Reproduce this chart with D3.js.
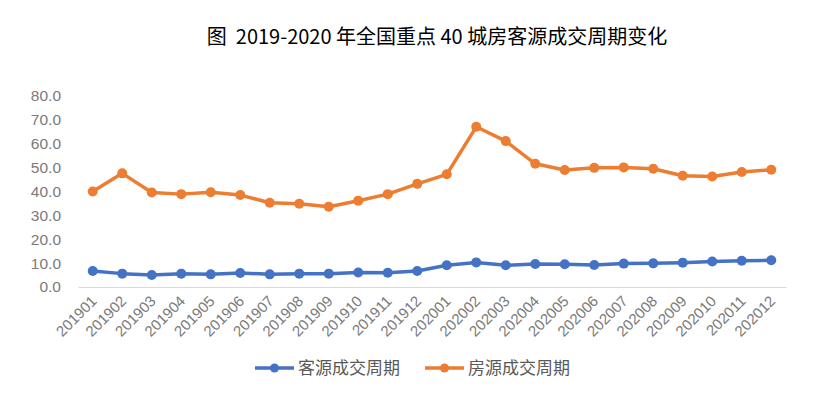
<!DOCTYPE html>
<html>
<head>
<meta charset="utf-8">
<script src="https://cdn.jsdelivr.net/npm/d3@7"></script>
<style>
  body { margin: 0; background: #fff; }
  svg { display: block; }
</style>
</head>
<body>
<div id="chart"></div>
<script>
// data
const months = ["201901","201902","201903","201904","201905","201906","201907","201908","201909","201910","201911","201912",
                "202001","202002","202003","202004","202005","202006","202007","202008","202009","202010","202011","202012"];
const buyerCycle = [6.7,5.6,5.0,5.6,5.3,5.9,5.3,5.6,5.6,6.1,6.0,6.7,
                    9.1,10.3,9.1,9.6,9.5,9.2,9.8,9.9,10.2,10.7,11.0,11.2];
const listingCycle = [40.0,47.6,39.6,38.9,39.7,38.5,35.3,34.9,33.6,36.1,38.9,43.2,
                      47.2,67.1,61.1,51.6,49.0,49.9,50.1,49.5,46.6,46.3,48.2,49.1];
const seriesNames = ["客源成交周期", "房源成交周期"];
const yTicks = [0,10,20,30,40,50,60,70,80];

const width = 830, height = 395;
const margin = {top: 96, right: 44, bottom: 108, left: 78};
const colors = ["#4472C4", "#ED7D31"];

const svg = d3.select("#chart").append("svg")
    .attr("width", width)
    .attr("height", height);

// title
svg.append("text")
    .attr("x", 437)
    .attr("y", 44)
    .attr("text-anchor", "middle")
    .attr("font-family", "'Noto Sans CJK SC', sans-serif")
    .attr("font-size", 20)
    .attr("fill", "#000")
    .style("white-space", "pre")
    .text("图  2019-2020 年全国重点 40 城房客源成交周期变化");

//scales
let x = d3.scaleBand()
    .domain(months)
    .range([margin.left, width - margin.right]);

let y = d3.scaleLinear()
    .domain([0, 80])
    .range([height - margin.bottom, margin.top]);

// y axis (labels only)
let yAxis = d3.axisLeft(y)
    .tickValues(yTicks)
    .tickFormat(d3.format(".1f"))
    .tickSize(0)
    .tickPadding(0);

let yG = svg.append("g")
    .attr("transform", "translate(61,0)")
    .call(yAxis);
yG.select(".domain").remove();
yG.selectAll("text")
    .attr("font-family", "'Liberation Sans', Arial, sans-serif")
    .attr("font-size", 15.5)
    .attr("fill", "#7a7a7a");

// x axis
let xAxis = d3.axisBottom(x).tickSize(0).tickPadding(0);
let xG = svg.append("g")
    .attr("transform", `translate(0,${y(0)})`)
    .call(xAxis);
xG.select(".domain").attr("stroke", "#d9d9d9").attr("stroke-width", 1.2);
xG.selectAll("text")
    .attr("font-family", "'Liberation Sans', Arial, sans-serif")
    .attr("font-size", 15)
    .attr("fill", "#7a7a7a")
    .attr("text-anchor", "end")
    .attr("dy", 0)
    .attr("transform", "translate(5,15) rotate(-45)");

// lines
const lineGen = d3.line()
    .x((d, i) => x(months[i]) + x.bandwidth() / 2)
    .y(d => y(d));

[buyerCycle, listingCycle].forEach((series, k) => {
    svg.append("path")
        .datum(series)
        .attr("fill", "none")
        .attr("stroke", colors[k])
        .attr("stroke-width", 3.5)
        .attr("stroke-linejoin", "round")
        .attr("d", lineGen);

    svg.append("g").selectAll("circle")
        .data(series)
        .enter().append("circle")
        .attr("cx", (d, i) => x(months[i]) + x.bandwidth() / 2)
        .attr("cy", d => y(d))
        .attr("r", 5)
        .attr("fill", colors[k]);
});

// legend
const legendItems = [{x: 255, name: seriesNames[0]}, {x: 425, name: seriesNames[1]}];
legendItems.forEach((item, k) => {
    let g = svg.append("g").attr("transform", `translate(${item.x},368)`);
    g.append("line")
        .attr("x1", 0).attr("x2", 39)
        .attr("stroke", colors[k])
        .attr("stroke-width", 3.5);
    g.append("circle")
        .attr("cx", 19.5).attr("cy", 0).attr("r", 4.5)
        .attr("fill", colors[k]);
    g.append("text")
        .attr("x", 43)
        .attr("y", 6)
        .attr("font-family", "'Noto Sans CJK SC', sans-serif")
        .attr("font-size", 17)
        .attr("fill", "#595959")
        .text(item.name);
});
</script>
</body>
</html>
